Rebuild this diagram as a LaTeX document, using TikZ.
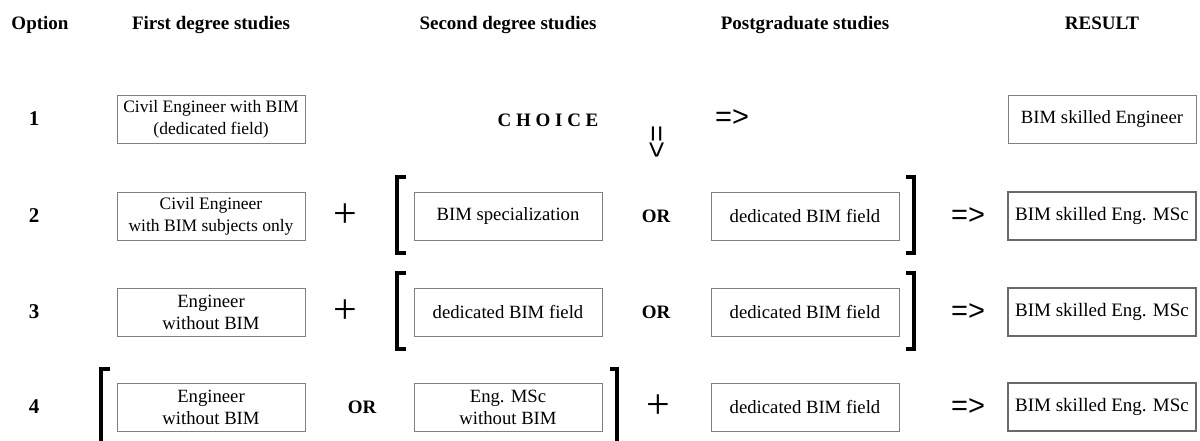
\documentclass[tikz,border=0pt]{standalone}
\usepackage{fontspec}
\setmainfont{Liberation Serif}
\newfontfamily\arrowfont{Liberation Sans}
\definecolor{boxgray}{RGB}{128,128,128}
\definecolor{resgray}{RGB}{105,105,105}

\begin{document}
\begin{tikzpicture}[x=1pt,y=-1pt,
  head/.style={anchor=base,font=\bfseries\fontsize{19}{22}\selectfont},
  num/.style={font=\bfseries\fontsize{21}{22}\selectfont},
  box/.style={draw=boxgray,line width=0.8pt,minimum width=188pt,minimum height=48pt,
    inner sep=0pt,align=center,font=\fontsize{18.7}{22}\selectfont},
  smallbox/.style={box,font=\fontsize{17.5}{22}\selectfont},
  resbox/.style={box,draw=resgray,line width=2.2pt,font=\fontsize{19}{22}\selectfont},
  word/.style={font=\bfseries\fontsize{19}{22}\selectfont},
  plus/.style={font=\fontsize{42}{42}\selectfont},
  imp/.style={font=\arrowfont\fontsize{29}{29}\selectfont},
  brk/.style={line width=3.4pt}]
\useasboundingbox (0,0) rectangle (1200,441);

% column heads
\node[head] (hopt) at (40,30) {Option};
\node[head] (hfirst) at (211,30) {First degree studies};
\node[head] (hsecond) at (508,30) {Second degree studies};
\node[head] (hpost) at (805,30) {Postgraduate studies};
\node[head] (hres) at (1102,30) {RESULT};

\foreach \n/\y in {1/119,2/216,3/312,4/407}
\node[num] (num\n) at (34,\y) {\n};

% option 1
\node[smallbox] (first1) at (211,119) {Civil Engineer with BIM\\(dedicated field)};
\node[word] (choice) at (548,120) {C H O I C E};
\node[imp] (imp1) at (732,118) {=>};
\node[imp,rotate=-90] (down) at (656,142) {=>};
\node[box] (res1) at (1102,119) {BIM skilled Engineer};

% option 2
\node[smallbox] (first2) at (211,216) {Civil Engineer\\with BIM subjects only};
\node[plus] (plus2) at (345,216) {+};
\node[box] (second2) at (508,216) {BIM specialization};
\node[word] (or2) at (656,216) {OR};
\node[box] (post2) at (805,216) {dedicated BIM field};
\node[imp] (imp2) at (968,216) {=>};
\node[resbox] (res2) at (1102,216) {BIM skilled Eng. MSc};

% option 3
\node[box] (first3) at (211,312) {Engineer\\without BIM};
\node[plus] (plus3) at (345,312) {+};
\node[box] (second3) at (508,312) {dedicated BIM field};
\node[word] (or3) at (656,312) {OR};
\node[box] (post3) at (805,312) {dedicated BIM field};
\node[imp] (imp3) at (968,312) {=>};
\node[resbox] (res3) at (1102,312) {BIM skilled Eng. MSc};

% option 4
\node[box] (first4) at (211,407) {Engineer\\without BIM};
\node[word] (or4) at (362,407) {OR};
\node[box] (second4) at (508,407) {Eng. MSc\\without BIM};
\node[plus] (plus4) at (658,407) {+};
\node[box] (post4) at (805,407) {dedicated BIM field};
\node[imp] (imp4) at (968,407) {=>};
\node[resbox] (res4) at (1102,407) {BIM skilled Eng. MSc};

% brackets
\foreach \y in {216,312} {
\draw[brk] (406,\y-39) -| (397,\y+37) -- (406,\y+37);
\draw[brk] (906,\y-39) -| (914,\y+37) -- (906,\y+37);
}
\draw[brk] (110,369) -| (101,450);
\draw[brk] (610,369) -| (617,450);
\end{tikzpicture}
\end{document}
